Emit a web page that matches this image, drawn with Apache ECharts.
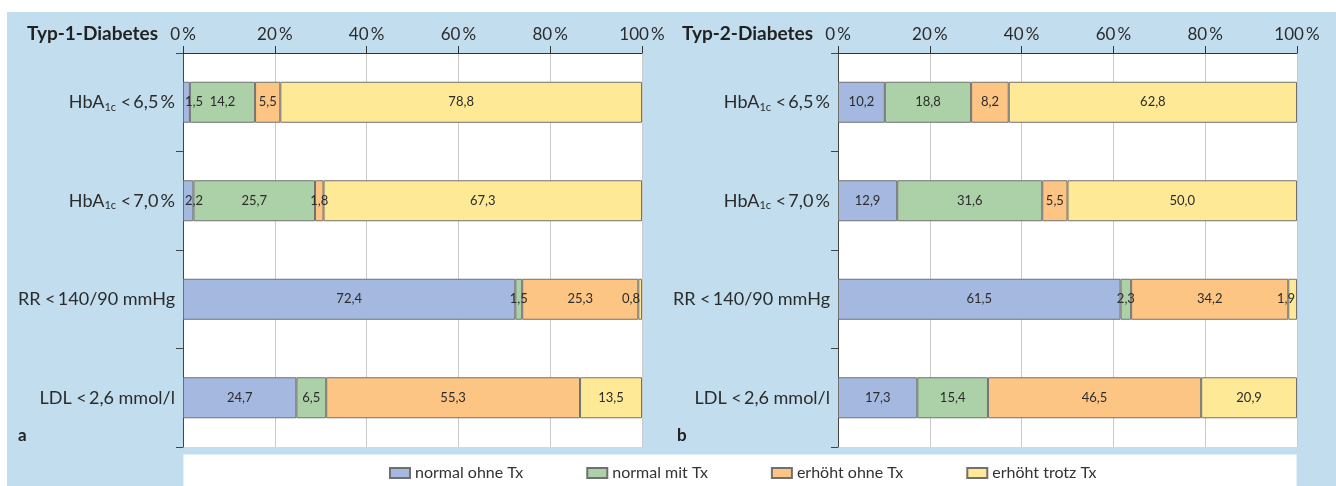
<!DOCTYPE html>
<html><head><meta charset="utf-8">
<script src="https://cdn.jsdelivr.net/npm/echarts@6/dist/echarts.min.js"></script>
<style>
html,body{margin:0;padding:0;background:#fff;}
#wrap{position:relative;width:1336px;height:486px;overflow:hidden;}
#panel{position:absolute;left:7px;top:12px;right:0;bottom:0;background:#c2deee;}
#legbox{position:absolute;left:183px;top:454px;width:1112px;height:40px;background:#fff;border:1px solid #e2eff7;}
#chart{position:absolute;left:0;top:0;width:1336px;height:486px;}
</style></head><body>
<div id="wrap"><div id="panel"></div><div id="legbox"></div><div id="chart"></div></div>
<script>
// ---- data ----
const categories = ['HbA1c <\u20096,5\u2009%', 'HbA1c <\u20097,0\u2009%', 'RR <\u2009140/90 mmHg', 'LDL <\u20092,6 mmol/l'];
const seriesNames = ['normal ohne Tx', 'normal mit Tx', 'erhöht ohne Tx', 'erhöht trotz Tx'];
const panelTitles = ['Typ-1-Diabetes', 'Typ-2-Diabetes'];
const panelLetters = ['a', 'b'];
const xTicks = [0, 20, 40, 60, 80, 100];
// Typ-1-Diabetes
const t1NormalOhne   = [1.5, 2.2, 72.4, 24.7];
const t1NormalMit    = [14.2, 25.7, 1.5, 6.5];
const t1ErhoehtOhne  = [5.5, 1.8, 25.3, 55.3];
const t1ErhoehtTrotz = [78.8, 67.3, 0.8, 13.5];
// Typ-2-Diabetes
const t2NormalOhne   = [10.2, 12.9, 61.5, 17.3];
const t2NormalMit    = [18.8, 31.6, 2.3, 15.4];
const t2ErhoehtOhne  = [8.2, 5.5, 34.2, 46.5];
const t2ErhoehtTrotz = [62.8, 50.0, 1.9, 20.9];

// ---- styling / layout ----
const FONT = 'Lato';
const TXT = '#2b2b2b';
const colors = ['#a4b8e0', '#acd0a8', '#fdc584', '#fee996'];
const panels = [
  [t1NormalOhne, t1NormalMit, t1ErhoehtOhne, t1ErhoehtTrotz],
  [t2NormalOhne, t2NormalMit, t2ErhoehtOhne, t2ErhoehtTrotz]
];
const gridLeft = [183, 838];
const gridW = 459;
const gridTop = 53;
const gridH = 394;

function fmt(v) { return v.toFixed(1).replace('.', ','); }

const grids = [], xAxes = [], yAxes = [], series = [], titles = [];
panels.forEach((sets, p) => {
  grids.push({left: gridLeft[p], top: gridTop, width: gridW, height: gridH,
    show: true, backgroundColor: '#fff', borderWidth: 0});
  xAxes.push({gridIndex: p, type: 'value', position: 'top',
    min: xTicks[0], max: xTicks[xTicks.length - 1], interval: xTicks[1] - xTicks[0],
    axisLine: {show: true, lineStyle: {color: '#333', width: 1}},
    axisTick: {show: true, length: 7, lineStyle: {color: '#333'}},
    axisLabel: {formatter: v => v + '\u2009%', color: TXT, fontSize: 17, fontFamily: FONT, margin: 10},
    splitLine: {show: true, lineStyle: {color: '#cacaca'}}
  });
  yAxes.push({gridIndex: p, type: 'category', inverse: true, data: categories,
    axisLine: {show: true, lineStyle: {color: '#444'}},
    axisTick: {show: true, length: 7, lineStyle: {color: '#444'}},
    axisLabel: {margin: 8, color: TXT, fontSize: 18, fontFamily: FONT,
      formatter: c => c.replace('HbA1c ', 'HbA{sub|1c} '),
      rich: {sub: {fontSize: 11, fontFamily: FONT, color: TXT, verticalAlign: 'middle', padding: [10, 0, 0, 0]}}}
  });
  const sums = categories.map((c, i) => sets.reduce((s, arr) => s + arr[i], 0));
  sets.forEach((arr, k) => {
    series.push({
      name: seriesNames[k], type: 'bar', stack: 'p' + p,
      xAxisIndex: p, yAxisIndex: p, barWidth: 41,
      itemStyle: {color: colors[k], borderColor: '#707070', borderWidth: 1},
      emphasis: {disabled: true},
      label: {show: true, position: 'inside', color: TXT, fontSize: 13, fontFamily: FONT},
      data: arr.map((v, i) => {
        const pct = v / sums[i] * 100;
        const segPx = pct / 100 * gridW;
        let off = 0;
        if (k === 0) off = Math.max(0, 11 - segPx / 2);
        if (k === sets.length - 1) off = -Math.max(0, 11 - segPx / 2);
        return {value: pct, label: {formatter: fmt(v), offset: [off, 0]}};
      })
    });
  });
});

const titleStyle = {fontFamily: FONT, fontWeight: 'bold', fontSize: 19, color: '#222'};
titles.push({text: panelTitles[0], right: 1336 - 158, top: 24, padding: 0, textStyle: titleStyle});
titles.push({text: panelTitles[1], right: 1336 - 813, top: 24, padding: 0, textStyle: titleStyle});
const letterStyle = {fontFamily: FONT, fontWeight: 'bold', fontSize: 17, color: '#222'};
titles.push({text: panelLetters[0], left: 18, top: 427, padding: 0, textStyle: letterStyle});
titles.push({text: panelLetters[1], left: 677, top: 427, padding: 0, textStyle: letterStyle});

const chart = echarts.init(document.getElementById('chart'));
chart.setOption({
  animation: false,
  title: titles,
  legend: {data: seriesNames, left: 389, top: 465, padding: 0, icon: 'rect',
    itemWidth: 20, itemHeight: 10, itemGap: 63,
    textStyle: {fontFamily: FONT, fontSize: 16, color: '#333'}},
  grid: grids, xAxis: xAxes, yAxis: yAxes, series: series
});
</script></body></html>
